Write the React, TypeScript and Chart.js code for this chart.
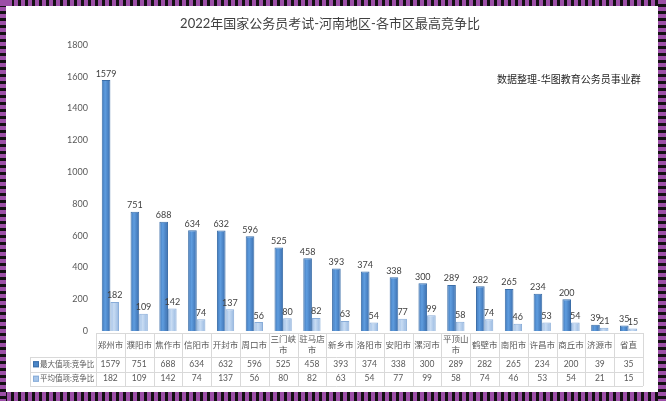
import { useEffect, useRef } from 'react';
import { Chart, registerables } from 'chart.js';

Chart.register(...registerables);

const chartTitle = '2022年国家公务员考试-河南地区-各市区最高竞争比';
const noteText = '数据整理-华图教育公务员事业群';
const categories = ['郑州市', '濮阳市', '焦作市', '信阳市', '开封市', '周口市', '三门峡市', '驻马店市', '新乡市', '洛阳市', '安阳市', '漯河市', '平顶山市', '鹤壁市', '南阳市', '许昌市', '商丘市', '济源市', '省直'];
const maxValues = [1579, 751, 688, 634, 632, 596, 525, 458, 393, 374, 338, 300, 289, 282, 265, 234, 200, 39, 35];
const avgValues = [182, 109, 142, 74, 137, 56, 80, 82, 63, 54, 77, 99, 58, 74, 46, 53, 54, 21, 15];
const seriesNames = ['最大值项:竞争比', '平均值项:竞争比'];
const yMin = 0;
const yMax = 1800;
const yStep = 200;

const DARK = '#4a86c8';
const DARK_BORDER = '#3b6ea8';
const LIGHT = '#a7c6ea';
const LIGHT_BORDER = '#88acd8';
const DARK_STOPS = ['#3f77b9', '#5f9ddf', '#3a6dad'];
const LIGHT_STOPS = ['#9abbe4', '#c8dcf3', '#96b7e0'];
const FONT = "Lato, 'Noto Sans CJK SC', sans-serif";
const CAT_PCT = 0.6;

function barGradient(stops: string[], side: number) {
  return (context: any) => {
    const chart = context.chart;
    const xs = chart.scales && chart.scales.x;
    if (!xs || context.dataIndex === undefined || !chart.chartArea) return stops[1];
    const cx = xs.getPixelForValue(context.dataIndex);
    const colW = (chart.chartArea.right - chart.chartArea.left) / categories.length;
    const bw = (colW * CAT_PCT) / 2;
    const x0 = side === 0 ? cx - bw : cx;
    const x1 = x0 + bw;
    if (!isFinite(x0) || !isFinite(x1)) return stops[1];
    const g = chart.ctx.createLinearGradient(x0, 0, x1, 0);
    g.addColorStop(0, stops[0]);
    g.addColorStop(0.4, stops[1]);
    g.addColorStop(1, stops[2]);
    return g;
  };
}

const tablePlugin = {
  id: 'tablePlugin',
  afterDraw(chart: any) {
    const { ctx, chartArea } = chart;
    const x = chart.scales.x;
    ctx.save();

    // title
    ctx.fillStyle = '#404040';
    ctx.font = `13px ${FONT}`;
    ctx.textAlign = 'center';
    ctx.textBaseline = 'middle';
    ctx.fillText(chartTitle, 330, 24);

    // note
    ctx.fillStyle = '#262626';
    ctx.font = `10px ${FONT}`;
    ctx.textAlign = 'left';
    ctx.fillText(noteText, 497, 80);

    // data labels
    ctx.fillStyle = '#404040';
    ctx.font = `9px ${FONT}`;
    ctx.textAlign = 'center';
    ctx.textBaseline = 'bottom';
    chart.data.datasets.forEach((ds: any, di: number) => {
      const meta = chart.getDatasetMeta(di);
      meta.data.forEach((el: any, i: number) => {
        ctx.fillText(String(ds.data[i]), el.x, el.y - 2);
      });
    });

    // table
    const n = categories.length;
    const left = chartArea.left;
    const right = chartArea.right;
    const colW = (right - left) / n;
    const top = chartArea.bottom + 2;
    const r1 = top + 24;
    const r2 = r1 + 14.5;
    const r3 = r2 + 14.5;
    const tableLeft = 30;

    ctx.strokeStyle = '#d9d9d9';
    ctx.lineWidth = 1;
    ctx.beginPath();
    ctx.moveTo(left, Math.round(top) + 0.5);
    ctx.lineTo(right, Math.round(top) + 0.5);
    [r1, r2, r3].forEach((yy) => {
      ctx.moveTo(tableLeft, Math.round(yy) + 0.5);
      ctx.lineTo(right, Math.round(yy) + 0.5);
    });
    for (let i = 0; i <= n; i++) {
      const xx = Math.round(left + i * colW) + 0.5;
      ctx.moveTo(xx, top);
      ctx.lineTo(xx, r3);
    }
    ctx.moveTo(tableLeft + 0.5, r1);
    ctx.lineTo(tableLeft + 0.5, r3);
    ctx.stroke();

    ctx.fillStyle = '#595959';
    ctx.font = `8.5px ${FONT}`;
    ctx.textAlign = 'center';
    ctx.textBaseline = 'middle';
    categories.forEach((c, i) => {
      const cx = x.getPixelForValue(i);
      const lines = c.length > 3 ? [c.slice(0, 3), c.slice(3)] : [c];
      const mid = (top + r1) / 2;
      if (lines.length === 1) {
        ctx.fillText(lines[0], cx, mid);
      } else {
        ctx.fillText(lines[0], cx, mid - 5.5);
        ctx.fillText(lines[1], cx, mid + 5.5);
      }
      ctx.fillText(String(maxValues[i]), cx, (r1 + r2) / 2);
      ctx.fillText(String(avgValues[i]), cx, (r2 + r3) / 2);
    });

    // legend keys + series names
    const rows = [(r1 + r2) / 2, (r2 + r3) / 2];
    const fills = [DARK, LIGHT];
    const borders = [DARK_BORDER, LIGHT_BORDER];
    ctx.textAlign = 'left';
    ctx.font = `7.5px ${FONT}`;
    rows.forEach((yy, k) => {
      ctx.fillStyle = fills[k];
      ctx.fillRect(33, yy - 3, 6, 6);
      ctx.strokeStyle = borders[k];
      ctx.strokeRect(33.5, yy - 2.5, 5, 5);
      ctx.fillStyle = '#595959';
      ctx.fillText(seriesNames[k], 40, yy);
    });

    ctx.restore();
  },
};

export default function App() {
  const canvasRef = useRef<HTMLCanvasElement | null>(null);

  useEffect(() => {
    if (!canvasRef.current) return;
    const chart = new Chart(canvasRef.current, {
      type: 'bar',
      data: {
        labels: categories,
        datasets: [
          {
            label: seriesNames[0],
            data: maxValues,
            backgroundColor: barGradient(DARK_STOPS, 0),
            borderColor: DARK_BORDER,
            borderWidth: 1,
            categoryPercentage: CAT_PCT,
            barPercentage: 1,
          },
          {
            label: seriesNames[1],
            data: avgValues,
            backgroundColor: barGradient(LIGHT_STOPS, 1),
            borderColor: LIGHT_BORDER,
            borderWidth: 1,
            categoryPercentage: CAT_PCT,
            barPercentage: 1,
          },
        ],
      },
      options: {
        animation: false,
        responsive: true,
        maintainAspectRatio: false,
        layout: { padding: { left: 56, right: 23, top: 45, bottom: 70 } },
        plugins: {
          legend: { display: false },
          title: { display: false },
          tooltip: { enabled: false },
        },
        scales: {
          x: { display: false, offset: true },
          y: {
            min: yMin,
            max: yMax,
            afterFit: (axis: any) => {
              axis.width = 40;
            },
            border: { display: false },
            grid: { display: false, drawTicks: false },
            ticks: {
              stepSize: yStep,
              padding: 8,
              color: '#595959',
              font: { family: FONT, size: 9 },
              callback: (v: any) => String(v),
            },
          },
        },
      },
      plugins: [tablePlugin],
    });
    return () => chart.destroy();
  }, []);

  const stripe = (deg: number) =>
    `repeating-linear-gradient(${deg}deg, #9c4fa7 0px, #9c4fa7 4px, #141014 4px, #141014 7px)`;

  return (
    <div style={{ position: 'fixed', left: 0, top: 0, width: 666, height: 401, background: '#ffffff' }}>
      <canvas ref={canvasRef} />
      <div style={{ position: 'absolute', left: 0, top: 0, width: 666, height: 6, background: stripe(90) }} />
      <div style={{ position: 'absolute', left: 0, top: 392, width: 666, height: 9, background: stripe(90) }} />
      <div style={{ position: 'absolute', left: 0, top: 0, width: 6, height: 401, background: stripe(180) }} />
      <div style={{ position: 'absolute', left: 658, top: 0, width: 8, height: 401, background: stripe(180) }} />
      <div style={{ position: 'absolute', left: 0, top: 0, width: 12, height: 6, background: '#9c4fa7' }} />
    </div>
  );
}
